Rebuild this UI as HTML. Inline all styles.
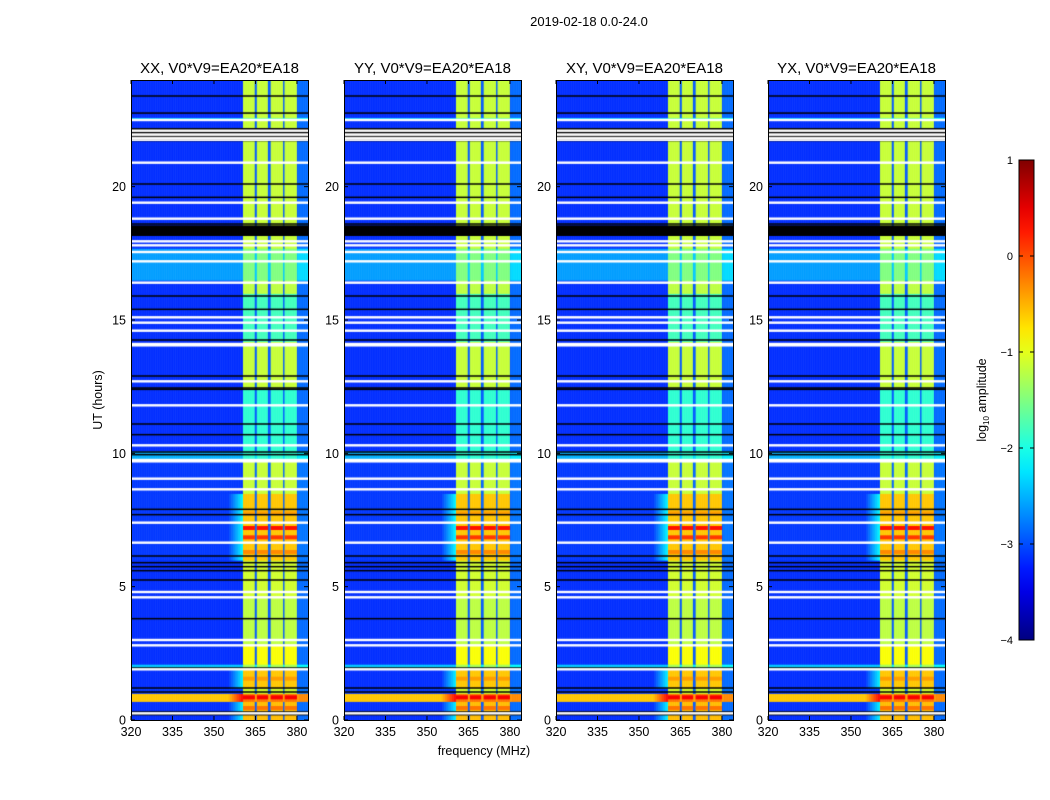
<!DOCTYPE html>
<html><head><meta charset="utf-8">
<style>
body{margin:0;background:#fff;width:1050px;height:800px;overflow:hidden;font-family:"Liberation Sans",sans-serif;}
#root{position:relative;width:1050px;height:800px;}
canvas{position:absolute;}
svg{position:absolute;left:0;top:0;}
</style></head>
<body>
<div id="root">
<svg id="ov" width="1050" height="800"></svg>
</div>
<script>
// ---- data ----
const panelTitles = ["XX, V0*V9=EA20*EA18","YY, V0*V9=EA20*EA18","XY, V0*V9=EA20*EA18","YX, V0*V9=EA20*EA18"];
const panelLefts = [131, 344, 556, 768];
const xTicks = [320,335,350,365,380];
const yTicks = [0,5,10,15,20];
const cbTicks = [1,0,-1,-2,-3,-4];
// subbands (MHz)
const subbands = [[360.5,364.8],[365.5,369.6],[370.5,374.9],[375.6,380.0]];
// time segments: [startH, endH, inBandLog, outBandLog]
const segments = [
 [0,0.7,-0.55,-3.15],[0.7,1.0,-0.2,-0.6],[1.0,1.2,-1.1,-3.1],[1.2,1.9,-0.6,-3.15],[1.9,2.1,-1.3,-2.4],
 [2.1,2.8,-0.9,-3.15],[2.8,4.6,-1.2,-3.15],[4.6,6.0,-1.1,-3.15],[6.0,6.6,-0.6,-3.1],
 [6.6,8.5,-0.6,-3.1],[8.5,9.7,-1.15,-3.1],[9.7,10.1,-1.9,-2.5],[10.1,12.4,-1.9,-3.15],
 [12.4,14.2,-1.15,-3.15],[14.2,16.0,-1.8,-3.15],[16.0,16.5,-1.2,-3.15],[16.5,17.7,-1.5,-2.6],
 [17.7,22.5,-1.15,-3.15],[22.5,22.6,-1.6,-2.4],[22.6,24,-1.15,-3.15]
];
// strong rows inside band (hours, log value)
const hotRows = [[0.45,-0.2],[0.85,0.4],[1.55,-0.4],[6.85,0.1],[7.2,0.3],[6.3,-0.3],[7.75,-0.4]];
const whiteLines = [0.25,1.9,2.8,3.0,4.6,4.8,6.65,7.4,8.65,9.05,9.7,9.75,10.3,11.8,12.7,14.05,14.1,14.6,14.9,15.1,16.4,17.2,17.55,17.8,17.95,18.8,19.4,20.9,21.8,21.95,22.1,22.5];
const blackLines = [0.2,0.3,1.05,1.2,1.95,3.8,5.25,5.6,5.75,5.9,6.15,7.7,7.9,9.95,10.05,10.7,11.1,12.4,12.45,12.9,14.25,15.4,15.9,18.6,19.6,20.1,22.76,23.4];
const blackBands = [[18.15,18.55],[21.7,22.2]];

// ---- scales ----
const PW=177, PT=80, PH=640, F0=320, F1=384, T1=24;
const xs = f => (f-F0)/(F1-F0)*PW;
const ys = h => PH - h/T1*PH;
function jet(v){ // v in [-4,1]
  let t=Math.max(0,Math.min(1,(v+4)/5));
  const c=x=>Math.max(0,Math.min(1,x));
  const r=c(1.5-Math.abs(4*t-3)), g=c(1.5-Math.abs(4*t-2)), b=c(1.5-Math.abs(4*t-1));
  return `rgb(${Math.round(r*255)},${Math.round(g*255)},${Math.round(b*255)})`;
}
const NS="http://www.w3.org/2000/svg";
const ov=document.getElementById('ov');
function el(tag,attrs,txt){const e=document.createElementNS(NS,tag);for(const k in attrs)e.setAttribute(k,attrs[k]);if(txt!==undefined)e.textContent=txt;ov.appendChild(e);return e;}
function inBand(f){return subbands.some(s=>f>=s[0]&&f<s[1]);}

const root=document.getElementById('root');
panelLefts.forEach((L,pi)=>{
  const cv=document.createElement('canvas');
  cv.width=PW;cv.height=PH;cv.style.left=L+'px';cv.style.top=PT+'px';
  
  
  root.insertBefore(cv,ov);
  const ctx=cv.getContext('2d');
  const df=0.25;
  segments.forEach(s=>{
    const y0=ys(s[1]), y1=ys(s[0]);
    for(let f=F0;f<F1;f+=df){
      const ib=inBand(f+df/2);
      let v = ib? s[2] : s[3];
      if(!ib && f>=380.5) v = s[3]+0.3;
      if(!ib && f>=360.5 && f<380.5) v = s[3]+0.2;
      if(!ib && f>=355 && f<360.5 && s[2]>-0.7) v = s[3]+ (f-355)/5.5*1.0;
      ctx.fillStyle=jet(v);
      ctx.fillRect(xs(f),y0,xs(f+df)-xs(f)+0.5,y1-y0+0.5);
    }
  });
  hotRows.forEach(r=>{
    subbands.forEach(s=>{ctx.fillStyle=jet(r[1]);ctx.fillRect(xs(s[0]),ys(r[0])-2,xs(s[1])-xs(s[0]),4);});
  });
  blackBands.forEach(b=>{ctx.fillStyle='#000';ctx.fillRect(0,ys(b[1]),PW,ys(b[0])-ys(b[1]));});
  ctx.fillStyle='#fff';
  for(let h=21.75;h<22.2;h+=0.12) ctx.fillRect(0,ys(h),PW,1);
  blackLines.forEach(h=>{ctx.fillStyle='#000';ctx.fillRect(0,ys(h)-0.75,PW,1.5);});
  whiteLines.forEach(h=>{ctx.fillStyle='#fff';ctx.fillRect(0,ys(h)-1.2,PW,2.4);});

  const g=el('g',{});
  
  
  const fr=el('rect',{x:L+0.5,y:PT+0.5,width:PW,height:PH,fill:'none',stroke:'#000','stroke-width':1});
  
  
  const t=el('text',{x:L+PW/2,y:73,'text-anchor':'middle','font-size':15},panelTitles[pi]);
  
  
  xTicks.forEach(v=>{
    const x=L+xs(v);
    el('line',{x1:x,x2:x,y1:PT+PH,y2:PT+PH-4,stroke:'#000'});
    el('line',{x1:x,x2:x,y1:PT,y2:PT+4,stroke:'#000'});
    const tl=el('text',{x:x,y:736,'text-anchor':'middle','font-size':12.5},String(v));
    
    
  });
  yTicks.forEach(v=>{
    const y=PT+ys(v);
    el('line',{x1:L,x2:L+4,y1:y,y2:y,stroke:'#000'});
    el('line',{x1:L+PW,x2:L+PW-4,y1:y,y2:y,stroke:'#000'});
    const tl=el('text',{x:L-5,y:y+4.5,'text-anchor':'end','font-size':12.5},String(v));
    
    
  });
});

const st=el('text',{x:589,y:26,'text-anchor':'middle','font-size':13},'2019-02-18 0.0-24.0');


const xl=el('text',{x:484,y:755,'text-anchor':'middle','font-size':12.5},'frequency (MHz)');


const yl=el('text',{x:0,y:0,'text-anchor':'middle','font-size':12.5,transform:'translate(102,400) rotate(-90)'},'UT (hours)');



// colorbar
const CBX=1019,CBY=160,CBW=15,CBH=480;
const defs=el('defs',{});
const lg=document.createElementNS(NS,'linearGradient');
lg.setAttribute('id','jetg');lg.setAttribute('x1','0');lg.setAttribute('y1','1');lg.setAttribute('x2','0');lg.setAttribute('y2','0');
for(let i=0;i<=20;i++){const s=document.createElementNS(NS,'stop');s.setAttribute('offset',i/20);s.setAttribute('stop-color',jet(-4+5*i/20));lg.appendChild(s);}
defs.appendChild(lg);
const cb=el('rect',{x:CBX,y:CBY,width:CBW,height:CBH,fill:'url(#jetg)',stroke:'#000'});


cbTicks.forEach(v=>{
  const y=CBY+(1-v)/5*CBH;
  el('line',{x1:CBX,x2:CBX+4,y1:y,y2:y,stroke:'#000'});
  el('line',{x1:CBX+CBW,x2:CBX+CBW-4,y1:y,y2:y,stroke:'#000'});
  const tl=el('text',{x:CBX-6,y:y+4,'text-anchor':'end','font-size':11},(v<0?'\u2212':'')+Math.abs(v));
  
  
});
const cl=el('text',{x:0,y:0,'text-anchor':'middle','font-size':12.5,transform:'translate(986,400) rotate(-90)'});
cl.innerHTML='log<tspan font-size="8" dy="3">10</tspan><tspan dy="-3"> amplitude</tspan>';


</script>
</body></html>
